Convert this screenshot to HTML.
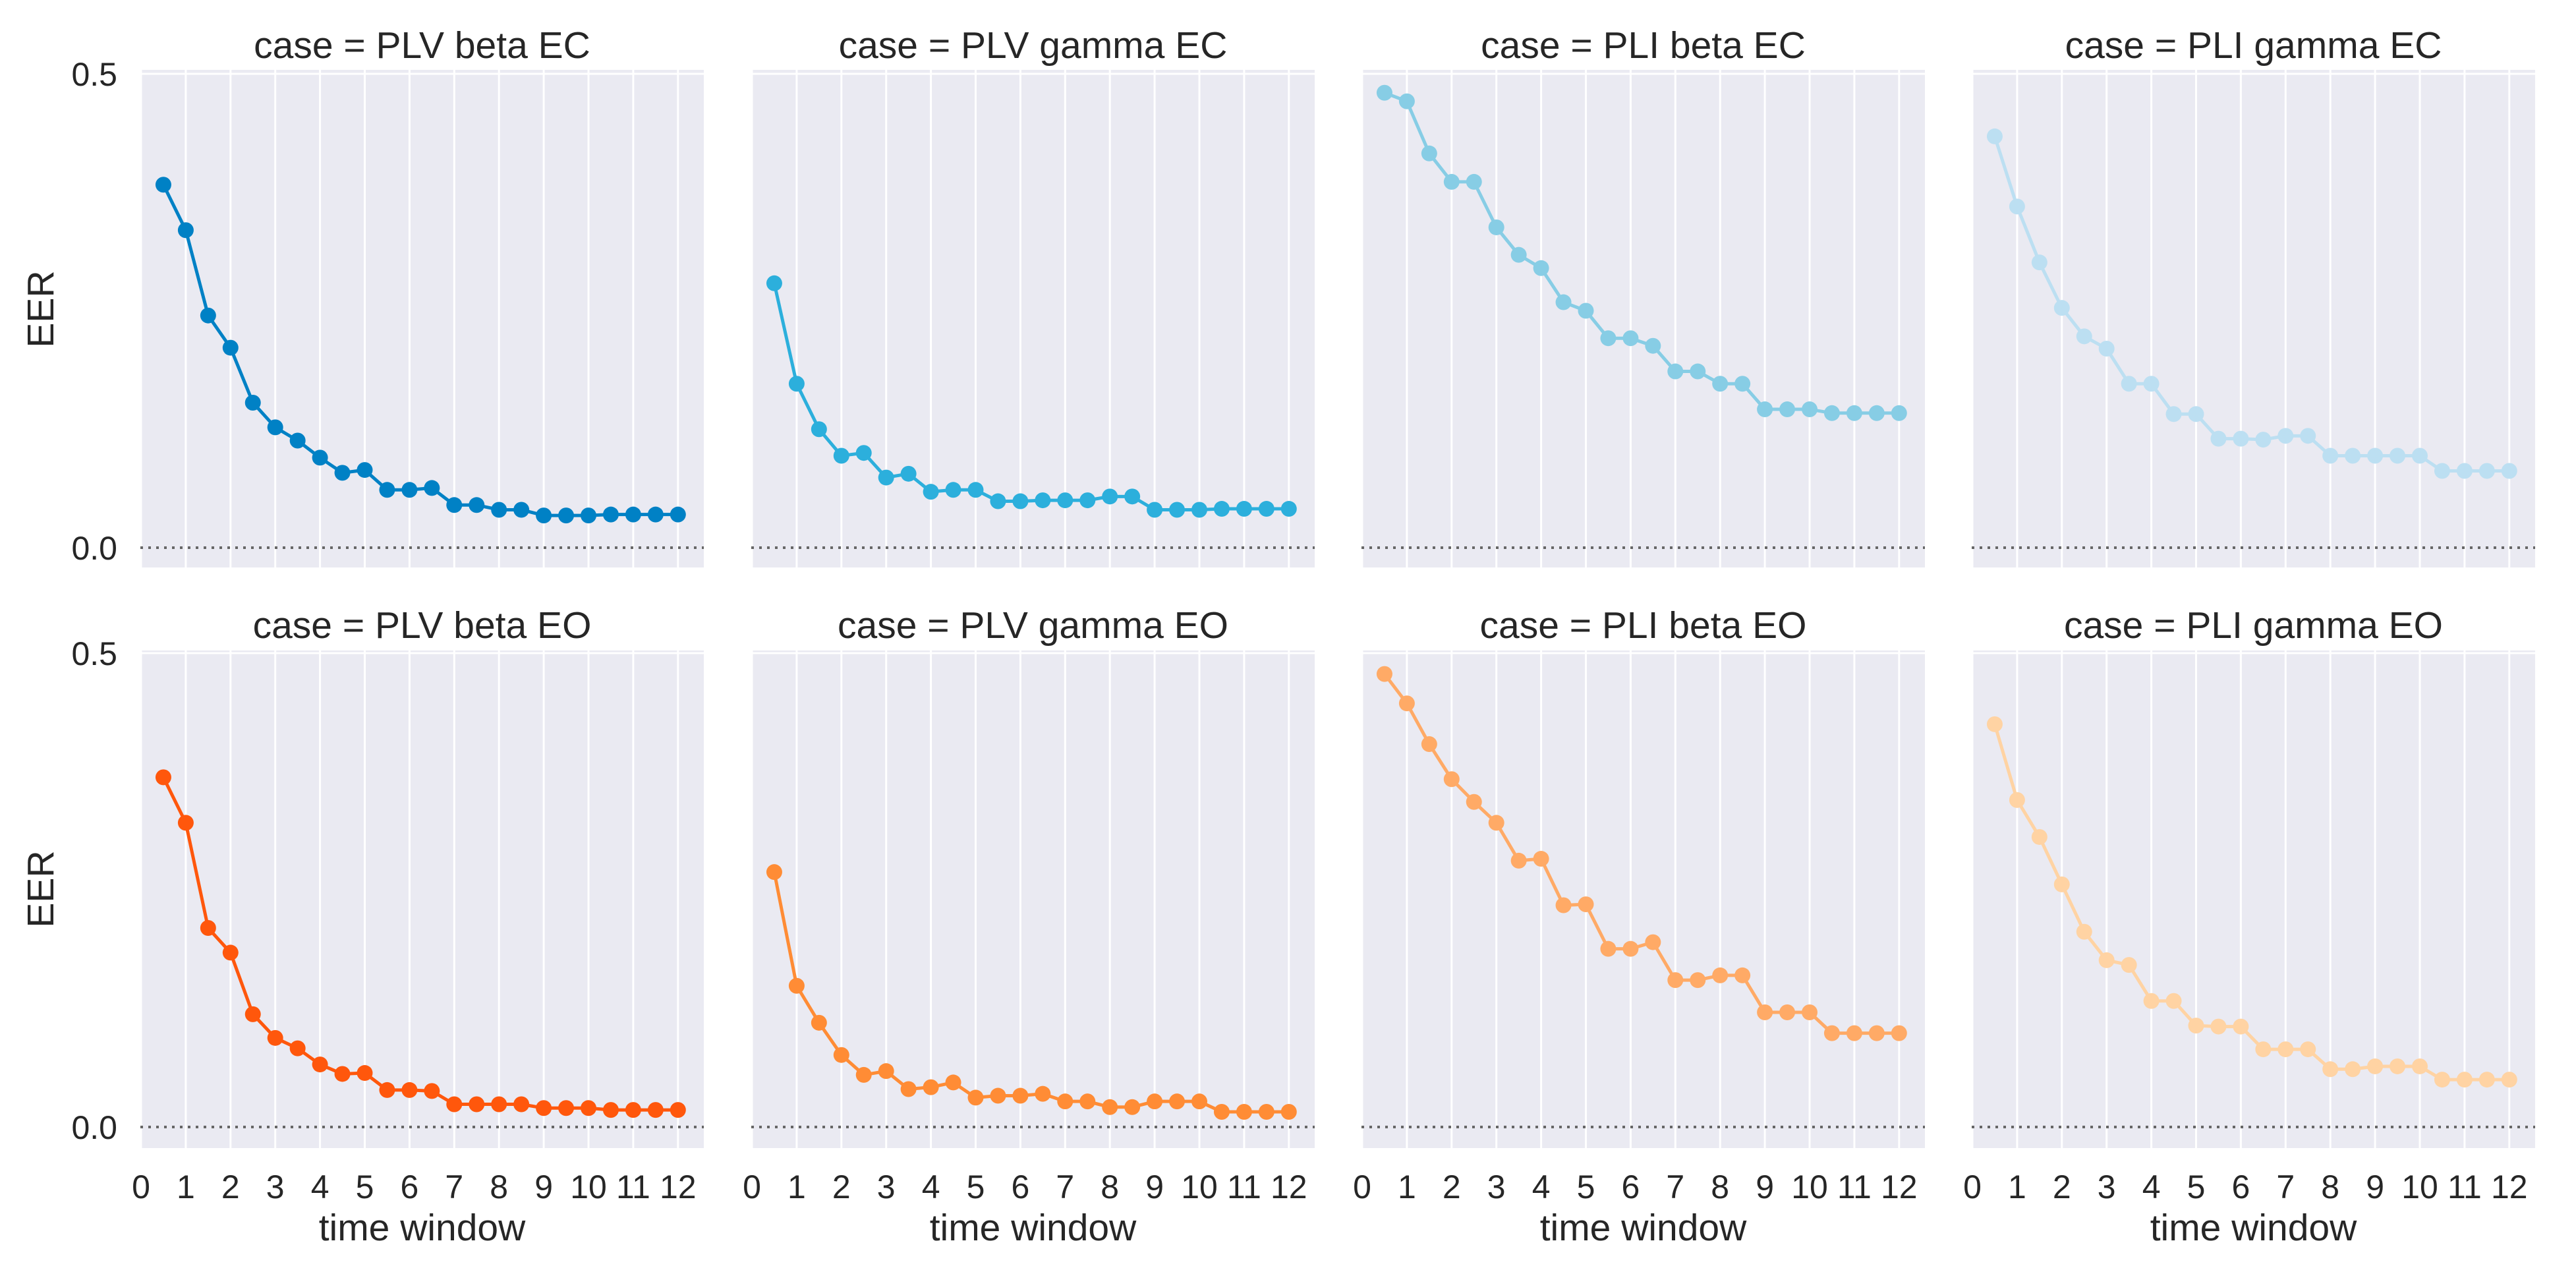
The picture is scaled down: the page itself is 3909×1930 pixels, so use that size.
<!DOCTYPE html>
<html><head><meta charset="utf-8">
<style>
html,body{margin:0;padding:0;background:#fff;}
svg{display:block;font-family:"Liberation Sans",Arial,sans-serif;}
</style></head>
<body>
<svg id="chart" width="3909" height="1930" viewBox="0 0 3909 1930" xmlns="http://www.w3.org/2000/svg"></svg>
<script>
const timeWindows = [0.5,1,1.5,2,2.5,3,3.5,4,4.5,5,5.5,6,6.5,7,7.5,8,8.5,9,9.5,10,10.5,11,11.5,12];
const caseNames = ["PLV beta EC","PLV gamma EC","PLI beta EC","PLI gamma EC","PLV beta EO","PLV gamma EO","PLI beta EO","PLI gamma EO"];
const plvBetaEC = [.383,.335,.245,.211,.153,.127,.113,.095,.079,.082,.061,.061,.063,.045,.045,.040,.040,.034,.034,.034,.035,.035,.035,.035];
const plvGammaEC = [.279,.173,.125,.097,.100,.074,.078,.059,.061,.061,.049,.049,.050,.050,.050,.054,.054,.040,.040,.040,.041,.041,.041,.041];
const pliBetaEC = [.480,.471,.416,.386,.386,.338,.309,.295,.259,.250,.221,.221,.213,.186,.186,.173,.173,.146,.146,.146,.142,.142,.142,.142];
const pliGammaEC = [.434,.360,.301,.253,.223,.210,.173,.173,.141,.141,.115,.115,.114,.118,.118,.097,.097,.097,.097,.097,.081,.081,.081,.081];
const plvBetaEO = [.369,.321,.210,.184,.119,.094,.083,.066,.056,.057,.039,.039,.038,.024,.024,.024,.024,.020,.020,.020,.018,.018,.018,.018];
const plvGammaEO = [.269,.149,.110,.076,.055,.059,.040,.042,.047,.031,.033,.033,.035,.027,.027,.021,.021,.027,.027,.027,.016,.016,.016,.016];
const pliBetaEO = [.478,.447,.404,.367,.343,.321,.281,.283,.234,.235,.188,.188,.195,.155,.155,.160,.160,.121,.121,.121,.099,.099,.099,.099];
const pliGammaEO = [.425,.345,.306,.256,.206,.176,.171,.133,.133,.107,.106,.106,.082,.082,.082,.061,.061,.064,.064,.064,.050,.050,.050,.050];
const xTickLabels = ["0","1","2","3","4","5","6","7","8","9","10","11","12"];
const yTickLabels = ["0.0","0.5"];
const yTickValues = [0,0.5];

const seriesList = [plvBetaEC,plvGammaEC,pliBetaEC,pliGammaEC,plvBetaEO,plvGammaEO,pliBetaEO,pliGammaEO];
const colors = ["#0081c5","#2cafdc","#87cde5","#bcdff2","#ff570c","#ff8c35","#ffaa66","#ffd3a3"];
const NS="http://www.w3.org/2000/svg";
const svg=document.getElementById('chart');
function mk(tag,attrs,parent){const e=document.createElementNS(NS,tag);for(const k in attrs)e.setAttribute(k,attrs[k]);(parent||svg).appendChild(e);return e;}
const lefts=[213,1140,2066,2992], W=855;
const tops=[106,987], H=755;
const zeroY=[831,1710], pxPerUnit=1438, xUnit=67.9;
for(let p=0;p<8;p++){
  const col=p%4,row=Math.floor(p/4);
  const L=lefts[col],T=tops[row];
  const xs=v=>L+1+xUnit*v;
  const ys=v=>zeroY[row]-pxPerUnit*v;
  const g=mk('g',{});
  
  
  const bg=mk('rect',{x:L,y:T,width:W,height:H,fill:'#eaeaf2'},g);
  
  
  for(let i=0;i<xTickLabels.length;i++){
    const gx=xs(+xTickLabels[i]);
    const gl=mk('line',{x1:gx,x2:gx,y1:T,y2:T+H,stroke:'#fff','stroke-width':3},g);
    
    
    if(row===1){
      const t=mk('text',{x:gx,y:1818,'font-size':50,'text-anchor':'middle',fill:'#262626'},g);
      t.textContent=xTickLabels[i];
      
      
    }
  }
  for(let i=0;i<yTickValues.length;i++){
    const gy=ys(yTickValues[i]);
    if(yTickValues[i]>0){
      const hl=mk('line',{x1:L,x2:L+W,y1:gy,y2:gy,stroke:'#fff','stroke-width':3},g);
      
      
    }
    if(col===0){
      const t=mk('text',{x:178,y:gy+18,'font-size':50,'text-anchor':'end',fill:'#262626'},g);
      t.textContent=yTickLabels[i];
      
      
    }
  }
  const zl=mk('line',{x1:L,x2:L+W,y1:ys(0),y2:ys(0),stroke:'#666','stroke-width':4,'stroke-dasharray':'4 8'},g);
  
  
  const data=seriesList[p];
  const pts=data.map((v,i)=>xs(timeWindows[i])+','+ys(v)).join(' ');
  const pl=mk('polyline',{points:pts,fill:'none',stroke:colors[p],'stroke-width':5,'stroke-linejoin':'round'},g);
  
  
  data.forEach((v,i)=>{
    const c=mk('circle',{cx:xs(timeWindows[i]),cy:ys(v),r:12,fill:colors[p]},g);
    
    
  });
  const title=mk('text',{x:L+W/2,y:row===0?88:968,'font-size':57,'text-anchor':'middle',fill:'#262626'},g);
  title.textContent='case = '+caseNames[p];
  
  
  if(col===0){
    const yl=mk('text',{x:0,y:0,'font-size':57,'text-anchor':'middle',fill:'#262626',transform:'translate(81,'+(row===0?469:1349)+') rotate(-90)'},g);
    yl.textContent='EER';
    
    
  }
  if(row===1){
    const xl=mk('text',{x:L+W/2,y:1882,'font-size':57,'text-anchor':'middle',fill:'#262626'},g);
    xl.textContent='time window';
    
    
  }
}
</script>
</body></html>
